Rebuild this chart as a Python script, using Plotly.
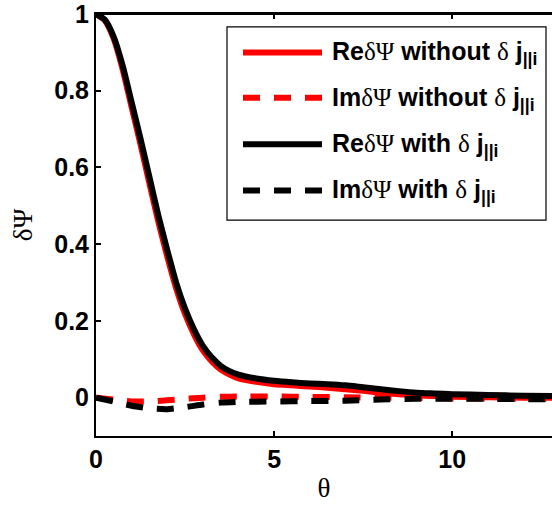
import plotly.graph_objects as go

# theta samples and the four field profiles
theta = [0, 0.25, 0.5, 0.75, 1.0, 1.25, 1.5, 1.75, 2.0, 2.25, 2.5, 2.75, 3.0,
         3.25, 3.5, 3.75, 4.0, 4.5, 5.0, 5.5, 6.0, 6.5, 7.0, 7.5, 8.0, 8.5,
         9.0, 9.5, 10.0, 11.0, 12.0, 12.8]

re_without = [1.0, 0.983, 0.935, 0.855, 0.757, 0.66, 0.558, 0.458, 0.368, 0.285,
              0.218, 0.165, 0.123, 0.094, 0.073, 0.060, 0.050, 0.041, 0.035, 0.032,
              0.029, 0.026, 0.022, 0.018, 0.013, 0.009, 0.006, 0.004, 0.002, 0.001,
              0.0, 0.0]
re_with = [1.0, 0.985, 0.94, 0.865, 0.77, 0.675, 0.575, 0.475, 0.385, 0.30,
           0.232, 0.178, 0.135, 0.105, 0.083, 0.069, 0.060, 0.050, 0.044, 0.040,
           0.037, 0.035, 0.032, 0.027, 0.022, 0.017, 0.013, 0.011, 0.009, 0.007,
           0.005, 0.004]

theta_im = [0, 0.5, 1.0, 1.5, 2.0, 2.5, 3.0, 3.5, 4.0, 5.0, 6.0, 7.0, 8.0, 9.0,
            10.0, 11.0, 12.0, 12.8]
im_without = [0.0, -0.005, -0.010, -0.010, -0.007, -0.003, 0.0, 0.002, 0.003,
              0.003, 0.002, 0.001, 0.0, -0.001, -0.002, -0.002, -0.003, -0.003]
im_with = [0.0, -0.010, -0.021, -0.028, -0.030, -0.025, -0.018, -0.013, -0.011,
           -0.010, -0.009, -0.008, -0.005, -0.003, -0.003, -0.003, -0.004, -0.004]

x_ticks = [0, 5, 10]
y_ticks = [0, 0.2, 0.4, 0.6, 0.8, 1]
y_tick_text = ["0", "0.2", "0.4", "0.6", "0.8", "1"]

sym = '<span style="font-family:Liberation Serif;font-weight:normal">{}</span>'
legend_labels = [
    "Re" + sym.format("δΨ") + " without " + sym.format("δ") + " j<sub>||i</sub>",
    "Im" + sym.format("δΨ") + " without " + sym.format("δ") + " j<sub>||i</sub>",
    "Re" + sym.format("δΨ") + " with " + sym.format("δ") + " j<sub>||i</sub>",
    "Im" + sym.format("δΨ") + " with " + sym.format("δ") + " j<sub>||i</sub>",
]

DASH = "17px,14px"
W, H = 552, 506
ML, MR, MT, MB = 96, 0, 8, 70

series = [
    (theta, re_without, "red", "solid"),
    (theta_im, im_without, "red", DASH),
    (theta, re_with, "black", "solid"),
    (theta_im, im_with, "black", DASH),
]

fig = go.Figure()
for (xs, ys, color, dash), name in zip(series, legend_labels):
    fig.add_trace(go.Scatter(
        x=xs, y=ys, mode="lines", name=name, showlegend=False,
        line=dict(color=color, width=6, dash=dash, shape="spline", smoothing=0.6),
    ))


def px(xp):
    return (xp - ML) / (W - ML - MR)


def py(yp):
    return (H - MB - yp) / (H - MT - MB)


# top border of the axes box
shapes = [dict(type="line", xref="paper", yref="paper", x0=0, x1=1, y0=1, y1=1,
               line=dict(color="black", width=2), layer="above")]
# hand-built legend box with long line samples
shapes.append(dict(type="rect", xref="paper", yref="paper",
                   x0=px(227), x1=px(546), y0=py(217), y1=py(21),
                   line=dict(color="black", width=1.2), fillcolor="white",
                   layer="above"))
annotations = []
rows = [47, 93, 140, 187]
for (xs, ys, color, dash), name, yr in zip(series, legend_labels, rows):
    shapes.append(dict(type="line", xref="paper", yref="paper",
                       x0=px(243), x1=px(322), y0=py(yr), y1=py(yr),
                       line=dict(color=color, width=6, dash=dash), layer="above"))
    annotations.append(dict(xref="paper", yref="paper", x=px(330), y=py(yr + 1),
                            xanchor="left", yanchor="middle", showarrow=False,
                            text=name,
                            font=dict(family="Liberation Sans", size=25,
                                      color="black", weight="bold")))

fig.update_layout(
    width=W, height=H,
    margin=dict(l=ML, r=MR, t=MT, b=MB),
    plot_bgcolor="white", paper_bgcolor="white",
    shapes=shapes, annotations=annotations,
    xaxis=dict(range=[0, 12.8], tickvals=x_ticks, ticktext=[str(v) for v in x_ticks],
               showline=True, linecolor="black", linewidth=2, mirror="ticks",
               ticks="inside", ticklen=5, tickwidth=1.5, tickcolor="black",
               showgrid=False, zeroline=False, ticklabeloverflow="allow",
               tickfont=dict(family="Liberation Sans", size=25, color="black",
                             weight="bold"),
               title=dict(text="θ", standoff=6,
                          font=dict(family="Liberation Serif", size=27,
                                    color="black"))),
    yaxis=dict(range=[-0.1, 1], tickvals=y_ticks, ticktext=y_tick_text,
               showline=True, linecolor="black", linewidth=2, mirror=False,
               ticks="inside", ticklen=5, tickwidth=1.5, tickcolor="black",
               showgrid=False, zeroline=False, ticklabeloverflow="allow",
               tickfont=dict(family="Liberation Sans", size=25, color="black",
                             weight="bold"),
               title=dict(text="δΨ", standoff=14,
                          font=dict(family="Liberation Serif", size=27,
                                    color="black"))),
)

fig.write_html("out.html")
